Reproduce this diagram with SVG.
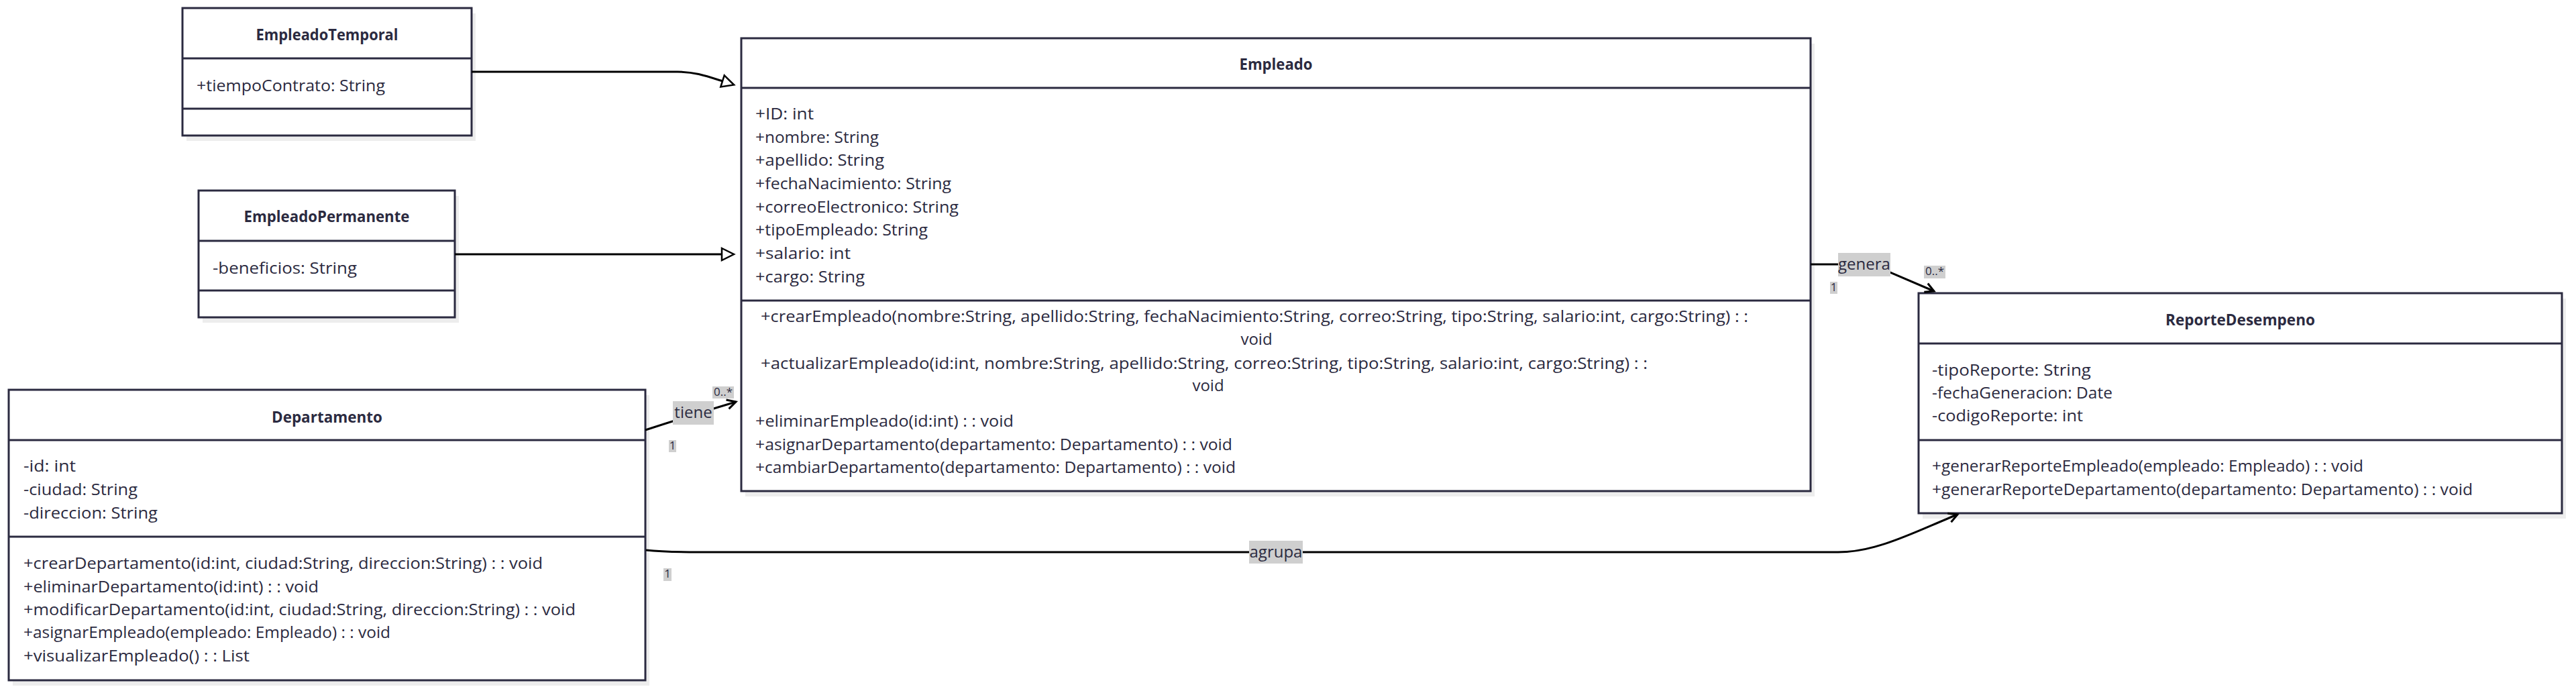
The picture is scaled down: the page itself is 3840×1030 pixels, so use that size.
<svg xmlns="http://www.w3.org/2000/svg" width="3840" height="1030" viewBox="0 0 3840 1030">
<defs>
<style>
.bg{fill:#ffffff}
.box{fill:#ffffff;stroke:#2b2a40;stroke-width:3}
.shadow{fill:#ededed}
.div{stroke:#2b2a40;stroke-width:3}
.t{font-family:'Open Sans','Liberation Sans',sans-serif;font-size:24px;fill:#2b2a40}
.title{font-family:'Open Sans','Liberation Sans',sans-serif;font-size:23px;font-weight:700;fill:#2b2a40;text-anchor:middle}
.edge{fill:none;stroke:#000000;stroke-width:3}
.lbg{fill:#cfcfcf}
.lt{font-family:'Open Sans','Liberation Sans',sans-serif;font-size:24px;fill:#2b2a40;text-anchor:middle}
.ct{font-family:'Open Sans','Liberation Sans',sans-serif;font-size:17px;fill:#2b2a40;text-anchor:middle}
</style>
<marker id="tri" markerUnits="userSpaceOnUse" viewBox="-3 -12 24 24" markerWidth="24" markerHeight="24" refX="0" refY="0" orient="auto" overflow="visible">
<path d="M0,-9 L18,0 L0,9 Z" fill="#ffffff" stroke="#000000" stroke-width="2.5"/>
</marker>
<marker id="open" markerUnits="userSpaceOnUse" viewBox="-16 -10 20 20" markerWidth="20" markerHeight="20" refX="0" refY="0" orient="auto" overflow="visible">
<path d="M-13,-7 L0,0 L-13,7" fill="none" stroke="#000000" stroke-width="3"/>
</marker>
</defs>
<rect class="bg" x="0" y="0" width="3840" height="1030"/>

<g id="EmpleadoTemporal">
<rect class="shadow" x="278" y="20" width="431" height="190"/>
<rect class="box" x="272" y="12" width="431" height="190"/>
<line class="div" x1="272" y1="87" x2="703" y2="87"/>
<line class="div" x1="272" y1="162" x2="703" y2="162"/>
<text class="title" x="487.5" y="60" textLength="212" lengthAdjust="spacingAndGlyphs">EmpleadoTemporal</text>
<text class="t" x="293" y="136" textLength="281" lengthAdjust="spacingAndGlyphs">+tiempoContrato: String</text>
</g>

<g id="EmpleadoPermanente">
<rect class="shadow" x="302" y="292" width="382" height="189"/>
<rect class="box" x="296" y="284" width="382" height="189"/>
<line class="div" x1="296" y1="359" x2="678" y2="359"/>
<line class="div" x1="296" y1="433" x2="678" y2="433"/>
<text class="title" x="487" y="331" textLength="247" lengthAdjust="spacingAndGlyphs">EmpleadoPermanente</text>
<text class="t" x="317" y="408" textLength="215" lengthAdjust="spacingAndGlyphs">-beneficios: String</text>
</g>

<g id="Empleado">
<rect class="shadow" x="1111" y="65" width="1594" height="675"/>
<rect class="box" x="1105" y="57" width="1594" height="675"/>
<line class="div" x1="1105" y1="131" x2="2699" y2="131"/>
<line class="div" x1="1105" y1="448" x2="2699" y2="448"/>
<text class="title" x="1902" y="104" textLength="109" lengthAdjust="spacingAndGlyphs">Empleado</text>
<text class="t" x="1126" y="178" textLength="87" lengthAdjust="spacingAndGlyphs">+ID: int</text>
<text class="t" x="1126" y="213" textLength="184" lengthAdjust="spacingAndGlyphs">+nombre: String</text>
<text class="t" x="1126" y="247" textLength="192" lengthAdjust="spacingAndGlyphs">+apellido: String</text>
<text class="t" x="1126" y="282" textLength="292" lengthAdjust="spacingAndGlyphs">+fechaNacimiento: String</text>
<text class="t" x="1126" y="317" textLength="303" lengthAdjust="spacingAndGlyphs">+correoElectronico: String</text>
<text class="t" x="1126" y="351" textLength="257" lengthAdjust="spacingAndGlyphs">+tipoEmpleado: String</text>
<text class="t" x="1126" y="386" textLength="142" lengthAdjust="spacingAndGlyphs">+salario: int</text>
<text class="t" x="1126" y="421" textLength="163" lengthAdjust="spacingAndGlyphs">+cargo: String</text>
<text class="t" x="1134" y="480" textLength="1472" lengthAdjust="spacingAndGlyphs">+crearEmpleado(nombre:String, apellido:String, fechaNacimiento:String, correo:String, tipo:String, salario:int, cargo:String) : :</text>
<text class="t" x="1873" y="514" text-anchor="middle">void</text>
<text class="t" x="1134" y="550" textLength="1322" lengthAdjust="spacingAndGlyphs">+actualizarEmpleado(id:int, nombre:String, apellido:String, correo:String, tipo:String, salario:int, cargo:String) : :</text>
<text class="t" x="1801" y="583" text-anchor="middle">void</text>
<text class="t" x="1126" y="636" textLength="385" lengthAdjust="spacingAndGlyphs">+eliminarEmpleado(id:int) : : void</text>
<text class="t" x="1126" y="671" textLength="711" lengthAdjust="spacingAndGlyphs">+asignarDepartamento(departamento: Departamento) : : void</text>
<text class="t" x="1126" y="705" textLength="716" lengthAdjust="spacingAndGlyphs">+cambiarDepartamento(departamento: Departamento) : : void</text>
</g>

<g id="Departamento">
<rect class="shadow" x="19" y="589" width="949" height="433"/>
<rect class="box" x="13" y="581" width="949" height="433"/>
<line class="div" x1="13" y1="656" x2="962" y2="656"/>
<line class="div" x1="13" y1="800" x2="962" y2="800"/>
<text class="title" x="487.5" y="630" textLength="165" lengthAdjust="spacingAndGlyphs">Departamento</text>
<text class="t" x="35" y="703" textLength="78" lengthAdjust="spacingAndGlyphs">-id: int</text>
<text class="t" x="35" y="738" textLength="170" lengthAdjust="spacingAndGlyphs">-ciudad: String</text>
<text class="t" x="35" y="773" textLength="200" lengthAdjust="spacingAndGlyphs">-direccion: String</text>
<text class="t" x="35" y="848" textLength="774" lengthAdjust="spacingAndGlyphs">+crearDepartamento(id:int, ciudad:String, direccion:String) : : void</text>
<text class="t" x="35" y="883" textLength="440" lengthAdjust="spacingAndGlyphs">+eliminarDepartamento(id:int) : : void</text>
<text class="t" x="35" y="917" textLength="823" lengthAdjust="spacingAndGlyphs">+modificarDepartamento(id:int, ciudad:String, direccion:String) : : void</text>
<text class="t" x="35" y="951" textLength="547" lengthAdjust="spacingAndGlyphs">+asignarEmpleado(empleado: Empleado) : : void</text>
<text class="t" x="35" y="986" textLength="337" lengthAdjust="spacingAndGlyphs">+visualizarEmpleado() : : List</text>
</g>

<g id="ReporteDesempeno">
<rect class="shadow" x="2866" y="445" width="959" height="328"/>
<rect class="box" x="2860" y="437" width="959" height="328"/>
<line class="div" x1="2860" y1="512" x2="3819" y2="512"/>
<line class="div" x1="2860" y1="656" x2="3819" y2="656"/>
<text class="title" x="3339.5" y="485" textLength="223" lengthAdjust="spacingAndGlyphs">ReporteDesempeno</text>
<text class="t" x="2880" y="560" textLength="237" lengthAdjust="spacingAndGlyphs">-tipoReporte: String</text>
<text class="t" x="2880" y="594" textLength="269" lengthAdjust="spacingAndGlyphs">-fechaGeneracion: Date</text>
<text class="t" x="2880" y="628" textLength="225" lengthAdjust="spacingAndGlyphs">-codigoReporte: int</text>
<text class="t" x="2880" y="703" textLength="643" lengthAdjust="spacingAndGlyphs">+generarReporteEmpleado(empleado: Empleado) : : void</text>
<text class="t" x="2880" y="738" textLength="806" lengthAdjust="spacingAndGlyphs">+generarReporteDepartamento(departamento: Departamento) : : void</text>
</g>

<g id="connectors">
<path class="edge" d="M703,107 L1010,107 C1035,107 1052,113 1077,121" marker-end="url(#tri)"/>
<path class="edge" d="M678,379 L1076,379" marker-end="url(#tri)"/>
<path class="edge" d="M962,641 Q1030,619 1097,599" marker-end="url(#open)"/>
<path class="edge" d="M2699,394 L2770,394 Q2792,394 2815,405 L2883,434" marker-end="url(#open)"/>
<path class="edge" d="M963,820 Q990,823 1040,823 L2740,823 C2800,823 2860,790 2918,767" marker-end="url(#open)"/>
<rect class="lbg" x="1003" y="598" width="61" height="35"/>
<text class="lt" x="1033.5" y="623">tiene</text>
<rect class="lbg" x="1062" y="576" width="32" height="18"/>
<text class="ct" x="1078" y="590">0..*</text>
<rect class="lbg" x="997" y="656" width="11" height="18"/>
<text class="ct" x="1002.5" y="670">1</text>
<rect class="lbg" x="2740" y="377" width="78" height="35"/>
<text class="lt" x="2779" y="402">genera</text>
<rect class="lbg" x="2728" y="420" width="11" height="18"/>
<text class="ct" x="2733.5" y="434">1</text>
<rect class="lbg" x="2868" y="396" width="32" height="19"/>
<text class="ct" x="2884" y="410">0..*</text>
<rect class="lbg" x="1862" y="806" width="80" height="34"/>
<text class="lt" x="1902" y="831">agrupa</text>
<rect class="lbg" x="989" y="847" width="12" height="19"/>
<text class="ct" x="995" y="861">1</text>
</g>
</svg>
